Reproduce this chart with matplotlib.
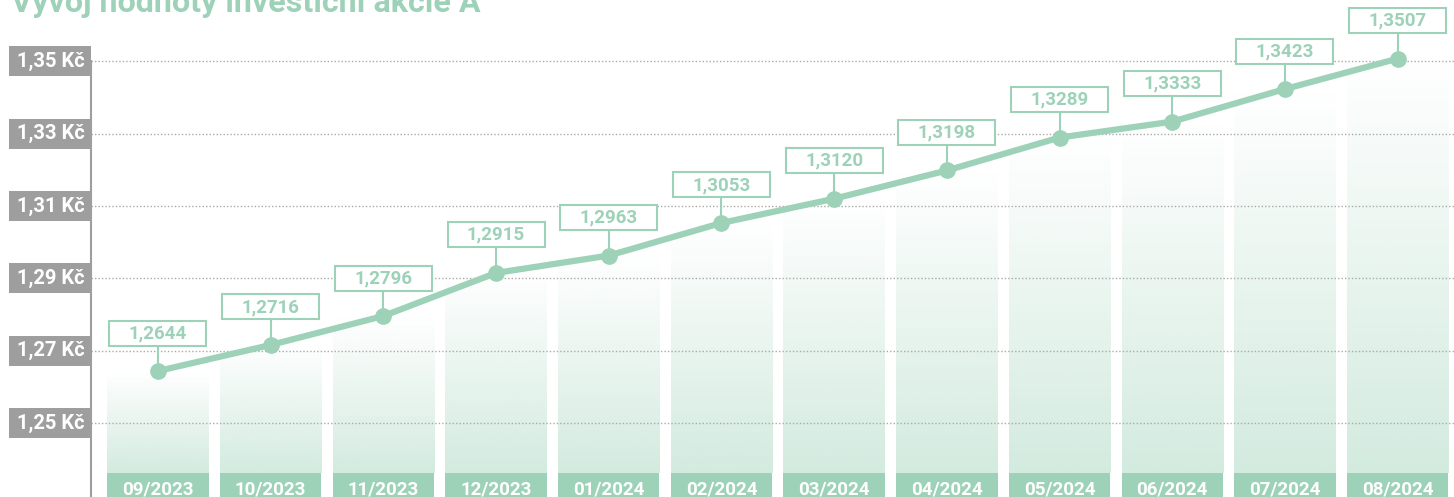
import matplotlib
matplotlib.use("Agg")
import matplotlib.pyplot as plt
from matplotlib.patches import Rectangle
from matplotlib.colors import to_rgb
import numpy as np

plt.rcParams['font.family'] = ['Roboto', 'DejaVu Sans']

months = ["09/2023", "10/2023", "11/2023", "12/2023", "01/2024", "02/2024",
          "03/2024", "04/2024", "05/2024", "06/2024", "07/2024", "08/2024"]
values = [1.2644, 1.2716, 1.2796, 1.2915, 1.2963, 1.3053,
          1.3120, 1.3198, 1.3289, 1.3333, 1.3423, 1.3507]
yticks = [1.25, 1.27, 1.29, 1.31, 1.33, 1.35]
title = "Vývoj hodnoty investiční akcie A"

green = '#9dd2b8'
gray = '#9e9e9e'

W, H = 1454, 497
fig = plt.figure(figsize=(W / 100, H / 100), dpi=100)
ax_left_px = 91
ax = fig.add_axes([ax_left_px / W, 0, 1 - ax_left_px / W, 1])

xlim = (-0.594, 11.5)
ylim = (1.2296, 1.3669)
ax.set_xlim(*xlim)
ax.set_ylim(*ylim)
ax.axis('off')

# pixel -> data helpers
ax_w_px = W - ax_left_px
dx = (xlim[1] - xlim[0]) / ax_w_px
dy = (ylim[1] - ylim[0]) / H

x = np.arange(len(months))
bar_w = 0.9
label_top = ylim[0] + 24 * dy

# gradient bars
rgb = np.array(to_rgb(green))
n = 256
grad = np.zeros((n, 1, 4))
grad[:, 0, :3] = rgb
grad[:, 0, 3] = np.linspace(0.0, 0.45, n)  # top -> bottom (origin upper)
for xi, v in zip(x, values):
    ax.imshow(grad, extent=(xi - bar_w / 2, xi + bar_w / 2, label_top, v),
              aspect='auto', origin='upper', zorder=1, interpolation='bilinear')
    # month label boxes
    ax.add_patch(Rectangle((xi - bar_w / 2, ylim[0]), bar_w, label_top - ylim[0],
                           facecolor=green, edgecolor='none', zorder=2))
    ax.text(xi, ylim[0] + 2 * dy, months[int(xi)], ha='center', va='baseline',
            color='white', fontsize=13.5, fontweight='bold', zorder=3)

# grid lines and y labels
box_w = 82 * dx
box_h = 30 * dy
for t in yticks:
    ax.plot(xlim, [t, t], color='#aaaaaa', lw=1, ls=(0, (1, 1.5)), zorder=2)
    ax.add_patch(Rectangle((xlim[0] - box_w, t - box_h / 2), box_w, box_h,
                           facecolor=gray, edgecolor='none', clip_on=False, zorder=5))
    ax.text(xlim[0] - box_w / 2 + 1 * dx, t, f"{t:.2f}".replace('.', ',') + " Kč",
            ha='center', va='center', color='white', fontsize=14.5,
            fontweight='bold', zorder=6, clip_on=False)

# left axis line
ax.plot([xlim[0], xlim[0]], [ylim[0], yticks[-1]], color=gray, lw=1.5,
        clip_on=False, zorder=4)

# line + markers
ax.plot(x, values, color=green, lw=4.5, marker='o', markersize=11,
        zorder=7, solid_capstyle='round')

# value boxes
lab_w = 97 * dx
lab_h = 25 * dy
lab_off = 38 * dy
for xi, v in zip(x, values):
    cy = v + lab_off
    ax.plot([xi, xi], [v, cy - lab_h / 2], color=green, lw=1.5, zorder=6)
    ax.add_patch(Rectangle((xi - lab_w / 2, cy - lab_h / 2), lab_w, lab_h,
                           facecolor='white', edgecolor=green, lw=1.5,
                           zorder=8, clip_on=False))
    ax.text(xi, cy, f"{v:.4f}".replace('.', ','), ha='center', va='center',
            color=green, fontsize=13.5, fontweight='bold', zorder=9)

fig.text(11 / W, 1 - 12 / H, title, ha='left', va='baseline', color=green,
         fontsize=23.2, fontweight='bold')

fig.savefig("out.png", dpi=100)
